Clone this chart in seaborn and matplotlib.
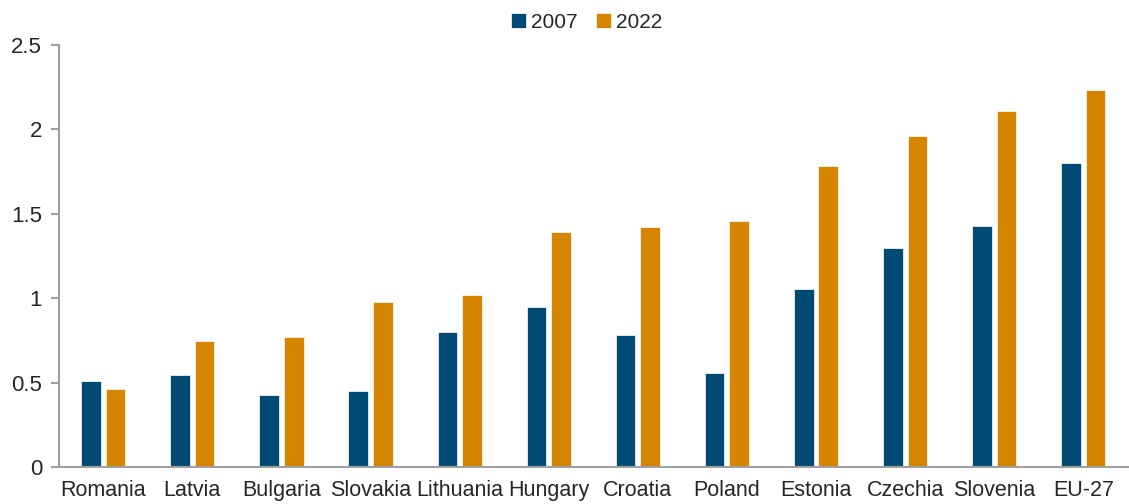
import pandas as pd
import seaborn as sns
import matplotlib.pyplot as plt

# dati
countries = ["Romania", "Latvia", "Bulgaria", "Slovakia", "Lithuania", "Hungary",
             "Croatia", "Poland", "Estonia", "Czechia", "Slovenia", "EU-27"]
val_2007 = [0.51, 0.545, 0.43, 0.45, 0.80, 0.95, 0.78, 0.56, 1.055, 1.30, 1.43, 1.80]
val_2022 = [0.46, 0.75, 0.77, 0.98, 1.02, 1.39, 1.42, 1.46, 1.78, 1.96, 2.11, 2.23]
years = ["2007", "2022"]
y_ticks = [0, 0.5, 1, 1.5, 2, 2.5]
y_labels = ["0", "0.5", "1", "1.5", "2", "2.5"]

df = pd.DataFrame({
    "country": countries * 2,
    "year": [years[0]] * len(countries) + [years[1]] * len(countries),
    "value": val_2007 + val_2022,
})

sns.set_style("white")
plt.rcParams["font.family"] = ["Liberation Sans", "DejaVu Sans"]

fig, ax = plt.subplots(figsize=(11.29, 5.04), dpi=100)
fig.subplots_adjust(left=0.052, right=0.999, top=0.911, bottom=0.073)

sns.barplot(data=df, x="country", y="value", hue="year",
            palette=["#004B73", "#D68500"], saturation=1, width=0.55, gap=0.2,
            edgecolor="white", linewidth=0.5, ax=ax)

ax.set_ylim(0, 2.5)
ax.set_xlim(-0.5, len(countries) - 0.5)
ax.set_yticks(y_ticks)
ax.set_yticklabels(y_labels, fontsize=16)
ax.tick_params(axis="x", length=0, labelsize=15.5, pad=9)
ax.tick_params(axis="y", left=True, length=6, width=1.5, color="#A0A0A0",
               labelsize=16, pad=6)
ax.set_xlabel("")
ax.set_ylabel("")

for s in ["top", "right"]:
    ax.spines[s].set_visible(False)
for s in ["left", "bottom"]:
    ax.spines[s].set_color("#A0A0A0")
    ax.spines[s].set_linewidth(1.5)

ax.legend(loc="upper center", bbox_to_anchor=(0.494, 1.12), ncol=2, frameon=False,
          fontsize=15, handlelength=0.7, handleheight=0.7, handletextpad=0.25,
          columnspacing=0.9)

plt.savefig("out.png", dpi=100)
